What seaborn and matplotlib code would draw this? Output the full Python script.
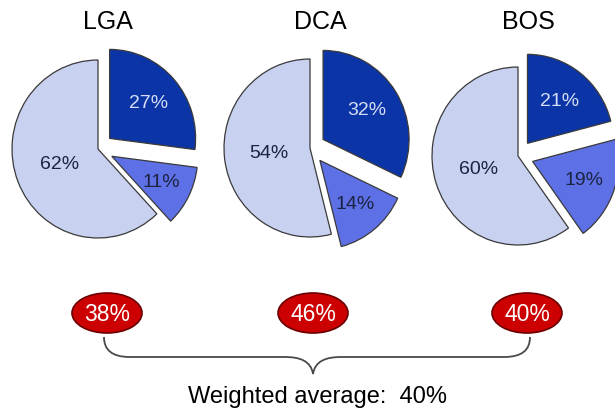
import matplotlib
matplotlib.use("Agg")
import matplotlib.pyplot as plt
import seaborn as sns
import numpy as np
from matplotlib.patches import Ellipse, PathPatch
from matplotlib.path import Path

# ---- data ----
airports = ["LGA", "DCA", "BOS"]
share_dark = [27, 32, 21]
share_medium = [11, 14, 19]
share_light = [62, 54, 60]
highlight = [38, 46, 40]
weighted_avg = 40

# ---- style ----
sns.set_theme(style="white")
plt.rcParams["font.family"] = ["Liberation Sans", "DejaVu Sans"]

colors = ["#0B34A6", "#5E70E6", "#C9D1F0"]
label_colors = ["#D6DEF7", "#1B2340", "#1B2340"]
label_dist = [0.60, 0.64, 0.48]
explode = [0.18, 0.18, 0.0]

W, Hf = 615, 415
fig = plt.figure(figsize=(W / 100, Hf / 100), dpi=100)
fig.patch.set_facecolor("white")

# overlay axes in pixel coordinates (y down)
ov = fig.add_axes([0, 0, 1, 1])
ov.set_xlim(0, W)
ov.set_ylim(Hf, 0)
ov.axis("off")

pie_cx = [98, 310, 518]
pie_cy = [149, 148, 156]
rx, ry = 86, 89
H = 1.4

for i, ap in enumerate(airports):
    cx, cy = pie_cx[i], pie_cy[i]
    ax = fig.add_axes([(cx - H * rx) / W, (Hf - cy - H * ry) / Hf,
                       2 * H * rx / W, 2 * H * ry / Hf])
    vals = [share_dark[i], share_medium[i], share_light[i]]
    wedges, texts = ax.pie(
        vals, colors=colors, startangle=90, counterclock=False,
        explode=explode, radius=1.0,
        labels=[f"{v}%" for v in vals], labeldistance=0.55,
        wedgeprops=dict(edgecolor="#3a3a3a", linewidth=0.9),
        textprops=dict(fontsize=14, ha="center", va="center"),
    )
    for j, (w, t) in enumerate(zip(wedges, texts)):
        wcx, wcy = w.center
        x, y = t.get_position()
        f = label_dist[j] / 0.55
        t.set_position((wcx + (x - wcx) * f, wcy + (y - wcy) * f))
        t.set_color(label_colors[j])
    ax.set_aspect("auto")
    ax.set_xlim(-H, H)
    ax.set_ylim(-H, H)
    ax.axis("off")
    ov.text(cx + 10, 22, ap, fontsize=18, ha="center", va="center", color="black")

# red ellipses
ell_x = [107, 313, 527]
ell_y = 313
for i, v in enumerate(highlight):
    e = Ellipse((ell_x[i], ell_y), 70, 40, facecolor="#CC0000",
                edgecolor="#6a0000", linewidth=1.2)
    ov.add_patch(e)
    ov.text(ell_x[i], ell_y + 1, f"{v}%", color="white", fontsize=16.5,
            ha="center", va="center")

# curly brace
xl, xr, xm = 104, 530, 313
ytop, yh, ytip = 337, 357, 374
verts = [
    (xl, ytop), (xl, ytop + 13), (xl + 8, yh), (xl + 26, yh),
    (xm - 28, yh),
    (xm - 13, yh), (xm - 2, yh + 4), (xm, ytip),
    (xm + 2, yh + 4), (xm + 13, yh), (xm + 28, yh),
    (xr - 26, yh),
    (xr - 8, yh), (xr, ytop + 13), (xr, ytop),
]
codes = [Path.MOVETO, Path.CURVE4, Path.CURVE4, Path.CURVE4,
         Path.LINETO,
         Path.CURVE4, Path.CURVE4, Path.CURVE4,
         Path.CURVE4, Path.CURVE4, Path.CURVE4,
         Path.LINETO,
         Path.CURVE4, Path.CURVE4, Path.CURVE4]
ov.add_patch(PathPatch(Path(verts, codes), facecolor="none",
                       edgecolor="#4a4a4a", linewidth=1.3))

ov.text(317, 397, f"Weighted average:  {weighted_avg}%", fontsize=17,
        ha="center", va="center", color="black")

fig.savefig("out.png", dpi=100, facecolor="white")
